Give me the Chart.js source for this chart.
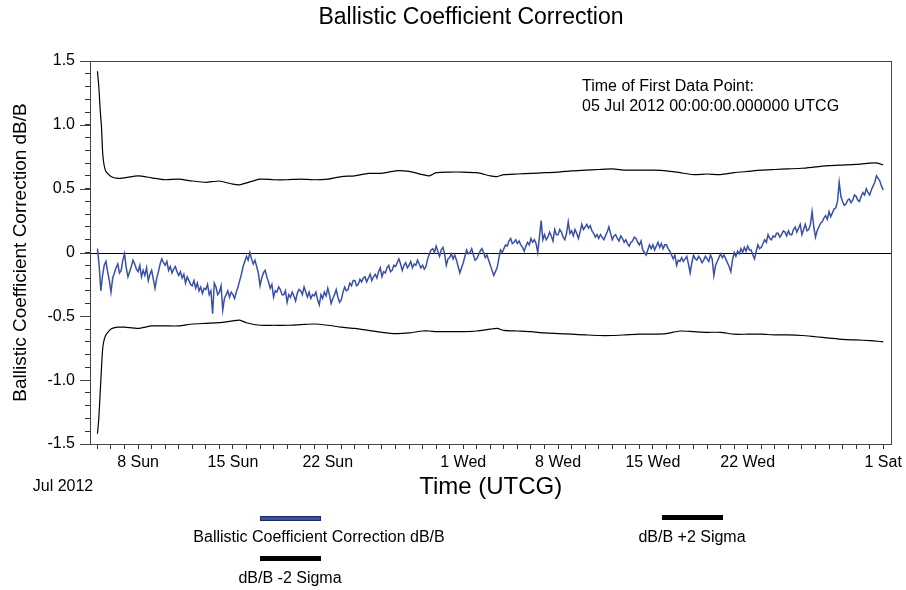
<!DOCTYPE html>
<html>
<head>
<meta charset="utf-8">
<title>Ballistic Coefficient Correction</title>
<script src="https://cdn.jsdelivr.net/npm/chart.js@4.4.0/dist/chart.umd.min.js"></script>
<style>
  html, body { margin: 0; padding: 0; background: #fff; }
</style>
</head>
<body>
<canvas id="bcChart" width="906" height="590"></canvas>
<script>
// Days are counted from the first data point, 05 Jul 2012 00:00 UTCG
const bcStepDays = 0.125;
const bcCorrection = [
  // one row per day, 8 samples each
  0.03, -0.10, -0.30, -0.18, -0.10, -0.07, -0.15, -0.22,
  -0.31, -0.20, -0.16, -0.12, -0.09, -0.16, -0.14, -0.06,
  -0.01, -0.12, -0.19, -0.15, -0.11, -0.06, -0.09, -0.13,
  -0.15, -0.10, -0.19, -0.14, -0.18, -0.12, -0.22, -0.17,
  -0.14, -0.21, -0.28, -0.20, -0.15, -0.09, -0.05, -0.08,
  -0.10, -0.07, -0.14, -0.11, -0.16, -0.13, -0.11, -0.15,
  -0.18, -0.15, -0.20, -0.17, -0.24, -0.19, -0.22, -0.25,
  -0.26, -0.22, -0.28, -0.24, -0.30, -0.27, -0.32, -0.28,
  -0.29, -0.25, -0.33, -0.30, -0.48, -0.24, -0.27, -0.33,
  -0.31, -0.26, -0.45, -0.36, -0.33, -0.30, -0.35, -0.31,
  -0.33, -0.36, -0.31, -0.27, -0.22, -0.17, -0.11, -0.07,
  -0.03, -0.06, 0.00, -0.05, -0.09, -0.06, -0.11, -0.16,
  -0.26, -0.20, -0.16, -0.14, -0.19, -0.23, -0.28, -0.25,
  -0.35, -0.30, -0.31, -0.27, -0.29, -0.33, -0.33, -0.30,
  -0.39, -0.33, -0.35, -0.31, -0.34, -0.38, -0.32, -0.29,
  -0.30, -0.33, -0.27, -0.31, -0.35, -0.31, -0.36, -0.33,
  -0.34, -0.31, -0.37, -0.41, -0.33, -0.36, -0.31, -0.34,
  -0.28, -0.33, -0.40, -0.36, -0.33, -0.29, -0.35, -0.39,
  -0.37, -0.31, -0.27, -0.30, -0.29, -0.24, -0.26, -0.22,
  -0.22, -0.26, -0.25, -0.21, -0.23, -0.20, -0.19, -0.23,
  -0.20, -0.17, -0.22, -0.19, -0.17, -0.20, -0.15, -0.12,
  -0.19, -0.15, -0.16, -0.12, -0.10, -0.15, -0.14, -0.10,
  -0.11, -0.08, -0.05, -0.09, -0.14, -0.10, -0.08, -0.12,
  -0.10, -0.07, -0.12, -0.09, -0.10, -0.06, -0.09, -0.12,
  -0.10, -0.13, -0.11, -0.05, -0.01, 0.02, 0.03, 0.00,
  0.05, 0.01, -0.03, 0.02, 0.04, -0.01, -0.10, -0.05,
  -0.04, -0.01, -0.05, -0.02, -0.06, -0.11, -0.16, -0.12,
  -0.08, -0.03, 0.02, -0.01, 0.00, 0.03, -0.02, -0.06,
  -0.05, -0.02, 0.01, 0.03, 0.00, -0.04, -0.02, -0.06,
  -0.10, -0.14, -0.18, -0.15, -0.12, -0.05, 0.02, 0.00,
  0.03, 0.06, 0.05, 0.09, 0.11, 0.07, 0.08, 0.10,
  0.07, 0.09, 0.06, 0.04, 0.01, 0.05, 0.08, 0.06,
  0.11, 0.08, 0.10, 0.07, 0.00, 0.12, 0.25, 0.10,
  0.14, 0.10, 0.12, 0.16, 0.13, 0.09, 0.18, 0.14,
  0.14, 0.18, 0.16, 0.12, 0.10, 0.15, 0.24, 0.15,
  0.17, 0.13, 0.18, 0.15, 0.11, 0.16, 0.22, 0.18,
  0.20, 0.22, 0.19, 0.21, 0.17, 0.15, 0.12, 0.14,
  0.11, 0.14, 0.12, 0.10, 0.13, 0.16, 0.20, 0.15,
  0.10, 0.13, 0.14, 0.11, 0.09, 0.13, 0.11, 0.08,
  0.10, 0.07, 0.05, 0.08, 0.09, 0.12, 0.11, 0.08,
  0.06, 0.09, 0.02, 0.00, -0.02, 0.02, 0.06, 0.03,
  0.06, 0.02, 0.05, 0.08, 0.04, 0.07, 0.03, 0.06,
  0.06, 0.03, 0.01, -0.02, -0.05, -0.02, -0.10, -0.06,
  -0.07, -0.04, -0.07, -0.05, -0.03, -0.09, -0.16, -0.08,
  -0.02, -0.05, -0.06, -0.03, -0.05, -0.08, -0.06, -0.03,
  -0.05, -0.07, -0.02, -0.05, -0.18, -0.10, -0.07, -0.04,
  -0.01, -0.04, -0.02, -0.05, -0.08, -0.11, -0.15, -0.06,
  0.00, -0.03, 0.01, -0.01, 0.03, 0.00, 0.04, 0.01,
  0.05, 0.02, 0.02, -0.02, -0.05, 0.01, 0.06, 0.03,
  0.04, 0.07, 0.10, 0.08, 0.14, 0.11, 0.10, 0.13,
  0.12, 0.15, 0.15, 0.12, 0.14, 0.17, 0.16, 0.13,
  0.17, 0.14, 0.14, 0.18, 0.20, 0.16, 0.19, 0.22,
  0.14, 0.18, 0.22, 0.17, 0.18, 0.22, 0.32, 0.20,
  0.12, 0.17, 0.20, 0.23, 0.24, 0.27, 0.29, 0.26,
  0.32, 0.28, 0.31, 0.34, 0.35, 0.40, 0.55, 0.44,
  0.40, 0.37, 0.38, 0.41, 0.42, 0.39, 0.41, 0.45,
  0.44, 0.41, 0.40, 0.44, 0.47, 0.45, 0.50, 0.47,
  0.45, 0.49, 0.52, 0.55, 0.60, 0.58, 0.56, 0.52,
  0.49
];

const sigmaDays = [0, 0.1, 0.2, 0.3, 0.4, 0.6, 1, 1.5, 2, 3, 4, 5, 6, 7, 8, 9, 10, 10.5, 11, 12,
  13, 14, 15, 16, 17, 18, 19, 20, 21, 22, 23, 24, 24.5, 25, 26, 27, 28, 29, 29.5, 30,
  31, 32, 33, 34, 35, 36, 37, 38, 39, 40, 41, 42, 43, 44, 45, 46, 47, 48, 49, 50,
  51, 52, 53, 54, 55, 56, 57, 57.6, 58];
const sigmaPlus = [1.42, 1.30, 1.12, 0.98, 0.76, 0.64, 0.595, 0.58, 0.585, 0.60, 0.585, 0.57, 0.575, 0.56, 0.55, 0.56, 0.535, 0.53, 0.545, 0.575,
  0.57, 0.57, 0.575, 0.57, 0.575, 0.595, 0.60, 0.62, 0.62, 0.64, 0.635, 0.61, 0.60, 0.625, 0.63, 0.63, 0.625, 0.60, 0.595, 0.61,
  0.615, 0.62, 0.625, 0.63, 0.64, 0.645, 0.65, 0.655, 0.645, 0.645, 0.645, 0.64, 0.625, 0.61, 0.615, 0.61, 0.625, 0.635, 0.645, 0.65,
  0.655, 0.66, 0.67, 0.68, 0.685, 0.69, 0.70, 0.70, 0.685];
const sigmaMinus = [-1.42, -1.30, -1.10, -0.90, -0.74, -0.65, -0.60, -0.585, -0.585, -0.595, -0.575, -0.575, -0.575, -0.56, -0.555, -0.55, -0.535, -0.53, -0.55, -0.57,
  -0.57, -0.57, -0.565, -0.56, -0.57, -0.585, -0.595, -0.61, -0.625, -0.635, -0.63, -0.615, -0.615, -0.62, -0.62, -0.62, -0.615, -0.60, -0.595, -0.61,
  -0.615, -0.62, -0.63, -0.635, -0.64, -0.645, -0.65, -0.65, -0.645, -0.64, -0.64, -0.635, -0.615, -0.62, -0.625, -0.625, -0.64, -0.64, -0.64, -0.645,
  -0.645, -0.65, -0.66, -0.67, -0.68, -0.685, -0.69, -0.695, -0.70];

// Axis labels
const xLabelDays = [3, 10, 17, 27, 34, 41, 48, 58];
const xLabelTexts = ["8 Sun", "15 Sun", "22 Sun", "1 Wed", "8 Wed", "15 Wed", "22 Wed", "1 Sat"];
const yTickValues = [-1.5, -1.0, -0.5, 0, 0.5, 1.0, 1.5];
const yTickLabels = ["-1.5", "-1.0", "-0.5", "0", "0.5", "1.0", "1.5"];

const FONT = "'Liberation Sans', Arial, sans-serif";
const BLUE = "#3a51a3";

const bcPoints = bcCorrection.map((v, i) => ({ x: i * bcStepDays, y: v }));
const plusPoints = sigmaPlus.map((v, i) => ({ x: sigmaDays[i], y: v }));
const minusPoints = sigmaMinus.map((v, i) => ({ x: sigmaDays[i], y: v }));

// Extra drawing: zero line, frame, long major ticks, title, notes and the legend
const decorPlugin = {
    id: "decor",
    beforeDatasetsDraw(chart) {
        const { ctx, chartArea: a, scales: { y } } = chart;
        const y0 = Math.round(y.getPixelForValue(0)) + 0.5;
        ctx.save();
        ctx.strokeStyle = "#000";
        ctx.lineWidth = 1;
        ctx.beginPath();
        ctx.moveTo(a.left, y0);
        ctx.lineTo(a.right, y0);
        ctx.stroke();
        ctx.restore();
    },
    afterDraw(chart) {
        const { ctx, chartArea: a, scales: { y } } = chart;
        ctx.save();

        // plot frame
        ctx.strokeStyle = "#444";
        ctx.lineWidth = 1;
        ctx.strokeRect(Math.round(a.left) + 0.5, Math.round(a.top) + 0.5,
            Math.round(a.right - a.left), Math.round(a.bottom - a.top));

        // longer ticks for labelled y values
        ctx.beginPath();
        yTickValues.forEach(v => {
            const py = Math.round(y.getPixelForValue(v)) + 0.5;
            ctx.moveTo(a.left - 10, py);
            ctx.lineTo(a.left, py);
        });
        ctx.stroke();

        ctx.fillStyle = "#000";
        ctx.textBaseline = "middle";

        // chart title
        ctx.font = "23px " + FONT;
        ctx.textAlign = "center";
        ctx.fillText("Ballistic Coefficient Correction", 471, 18);

        // month label under the axis
        ctx.font = "16px " + FONT;
        ctx.fillText("Jul 2012", 63, 487);

        // first data point note
        ctx.textAlign = "left";
        ctx.fillText("Time of First Data Point:", 582, 87);
        ctx.fillText("05 Jul 2012 00:00:00.000000 UTCG", 582, 107);

        // legend
        const ds = chart.data.datasets;
        const items = [
            { d: ds[0], sx: 260, sy: 516, tx: 319, ty: 538 },
            { d: ds[1], sx: 662, sy: 515, tx: 692, ty: 538 },
            { d: ds[2], sx: 260, sy: 556, tx: 290, ty: 579 }
        ];
        ctx.textAlign = "center";
        items.forEach(it => {
            ctx.fillStyle = it.d.borderColor;
            ctx.fillRect(it.sx, it.sy, 61, 5);
            if (it.d.borderColor === BLUE) {
                ctx.strokeStyle = "#1c2a5e";
                ctx.strokeRect(it.sx + 0.5, it.sy + 0.5, 60, 4);
            }
            ctx.fillStyle = "#000";
            ctx.fillText(it.d.label, it.tx, it.ty);
        });
        ctx.restore();
    }
};

new Chart(document.getElementById("bcChart").getContext("2d"), {
    type: "line",
    data: {
        datasets: [
            {
                label: "Ballistic Coefficient Correction dB/B",
                data: bcPoints,
                borderColor: BLUE,
                borderWidth: 1.5,
                pointRadius: 0,
                tension: 0,
                order: 1
            },
            {
                label: "dB/B +2 Sigma",
                data: plusPoints,
                borderColor: "#000",
                borderWidth: 1.2,
                pointRadius: 0,
                tension: 0.2,
                order: 2
            },
            {
                label: "dB/B -2 Sigma",
                data: minusPoints,
                borderColor: "#000",
                borderWidth: 1.2,
                pointRadius: 0,
                tension: 0.2,
                order: 3
            }
        ]
    },
    options: {
        responsive: false,
        animation: false,
        events: [],
        layout: { padding: { top: 61, right: 11, bottom: 88, left: 0 } },
        plugins: {
            legend: { display: false },
            tooltip: { enabled: false },
            title: { display: false }
        },
        scales: {
            x: {
                type: "linear",
                min: -0.55,
                max: 58.6,
                afterFit: scale => { scale.height = 58; },
                afterBuildTicks: scale => {
                    const ticks = [];
                    for (let d = 0; d <= 58; d++) ticks.push({ value: d });
                    scale.ticks = ticks;
                },
                border: { display: false },
                grid: { drawOnChartArea: false, tickLength: 5, color: "#333" },
                ticks: {
                    autoSkip: false,
                    maxRotation: 0,
                    padding: 4,
                    color: "#000",
                    font: { family: FONT, size: 16 },
                    callback: value => {
                        const i = xLabelDays.indexOf(value);
                        return i >= 0 ? xLabelTexts[i] : "";
                    }
                },
                title: {
                    display: true,
                    text: "Time (UTCG)",
                    color: "#000",
                    font: { family: FONT, size: 24 },
                    padding: { top: 0, bottom: 0 }
                }
            },
            y: {
                min: -1.5,
                max: 1.5,
                afterFit: scale => { scale.width = 90; },
                afterBuildTicks: scale => {
                    const ticks = [];
                    for (let k = -15; k <= 15; k++) ticks.push({ value: k / 10 });
                    scale.ticks = ticks;
                },
                border: { display: false },
                grid: { drawOnChartArea: false, tickLength: 5, color: "#333" },
                ticks: {
                    autoSkip: false,
                    padding: 10,
                    color: "#000",
                    font: { family: FONT, size: 16 },
                    callback: value => {
                        const i = yTickValues.findIndex(v => Math.abs(v - value) < 1e-6);
                        return i >= 0 ? yTickLabels[i] : "";
                    }
                },
                title: {
                    display: true,
                    text: "Ballistic Coefficient Correction dB/B",
                    color: "#000",
                    font: { family: FONT, size: 19 },
                    padding: { top: 9, bottom: 0 }
                }
            }
        }
    },
    plugins: [decorPlugin]
});
</script>
</body>
</html>
